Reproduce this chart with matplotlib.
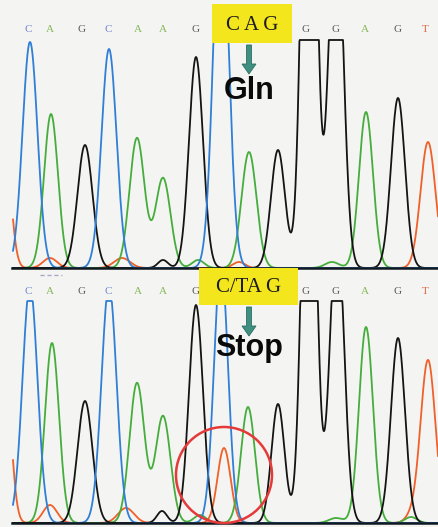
import numpy as np
import matplotlib.pyplot as plt
from matplotlib.patches import Rectangle, Circle

# peak lists per dye channel: (position, top y in px, width)
# upper trace (wild type)
top_C = [(30, 42, 7.5), (109, 49, 7.5), (221, -110, 7.5)]
top_A = [(51, 114, 7), (137, 138, 7.5), (163, 178, 7.5), (198, 260, 6),
         (249, 152, 7.5), (332, 262, 7), (366, 112, 7)]
top_G = [(85, 145, 7.5), (163, 260, 5), (196, 57, 7), (278, 150, 7),
         (309, -402, 6.5), (336, -114, 7), (398, 98, 7)]
top_T = [(5, 150, 6), (50, 258, 7), (122, 258, 8), (239, 262, 6), (428, 142, 7.5)]

# lower trace (heterozygous C/T)
bot_C = [(30, 285, 7.5), (109, 285, 7.5), (221, 262, 7)]
bot_A = [(52, 343, 7), (137, 383, 7.5), (163, 416, 7.5), (200, 515, 6),
         (248, 407, 7), (336, 518, 7), (366, 327, 7), (411, 517, 6)]
bot_G = [(85, 401, 7.5), (162, 511, 5), (196, 305, 7), (278, 404, 6.5),
         (309, -27, 6.5), (337, 223, 7), (398, 338, 7)]
bot_T = [(5, 370, 6), (50, 505, 7), (126, 508, 8), (224, 448, 6.5),
         (411, 517, 6), (428, 360, 7.5)]

# base calls above each trace
calls_left = ['C', 'A', 'G', 'C', 'A', 'A', 'G']
calls_left_x = [28, 50, 82, 108, 138, 163, 195]
calls_right = ['G', 'G', 'A', 'G', 'T']
calls_right_x = [306, 336, 365, 398, 425]

codon_top = 'C A G'
codon_bot = 'C/TA G'
aa_top = 'Gln'
aa_bot = 'Stop'

dye = {'C': '#2f7fd6', 'A': '#45ad3c', 'G': '#141414', 'T': '#f0602a'}
call_col = {'C': '#6f86cf', 'A': '#86b85a', 'G': '#5a5a5a', 'T': '#e0603e'}

fig = plt.figure(figsize=(4.38, 5.27), dpi=100, facecolor='#f4f4f2')
ax = fig.add_axes([0, 0, 1, 1])
ax.set_xlim(0, 438)
ax.set_ylim(527, 0)
ax.axis('off')

x = np.linspace(13, 438, 1200)


def trace(peaks, base, clip):
    s = np.zeros_like(x)
    for p, top, w in peaks:
        s += (base - top) * np.exp(-0.5 * ((x - p) / w) ** 2)
    return base - np.minimum(s, base - clip)


panels = [
    (268, 40, {'T': top_T, 'A': top_A, 'G': top_G, 'C': top_C}, 30, (212, 4, 80, 39), codon_top, 25, 45, aa_top, 91),
    (523, 301, {'T': bot_T, 'A': bot_A, 'G': bot_G, 'C': bot_C}, 291, (199, 268, 99, 37), codon_bot, 288, 307, aa_bot, 348),
]

for base, clip, chans, ycall, box, codon, ycod, yarr, aa, yaa in panels:
    for k in ['T', 'A', 'G', 'C']:
        ax.plot(x, trace(chans[k], base, clip), color=dye[k], lw=1.3, zorder=2)
    ax.plot([12, 438], [base, base], color='#101820', lw=1.8, zorder=3)
    for b, xc in zip(calls_left + calls_right, calls_left_x + calls_right_x):
        ax.text(xc, ycall, b, color=call_col[b], fontsize=8, family='Liberation Serif',
                ha='center', va='center', zorder=4)
    bx, by, bw, bh = box
    ax.add_patch(Rectangle((bx, by), bw, bh, facecolor='#f3e61c', edgecolor='none', zorder=5))
    ax.text(bx + bw / 2, ycod, codon, fontsize=15, family='Liberation Serif', color='#1c1c1c',
            ha='center', va='center', zorder=6)
    ax.arrow(249, yarr, 0, 29, width=5, head_width=14, head_length=10, length_includes_head=True,
             facecolor='#3f9080', edgecolor='#2d6e62', lw=0.6, zorder=6)
    ax.text(249, yaa, aa, fontsize=22, fontweight='bold', family='Liberation Sans', color='#0a0a0a',
            ha='center', va='center', zorder=6)

# faint mark under the lower baseline and the highlight circle
ax.plot([40, 62], [275, 275], color='#a8a8c8', lw=1, ls=(0, (3, 2)), zorder=2)
ax.add_patch(Circle((224, 475), 48, fill=False, edgecolor='#e53a3a', lw=1.8, zorder=7))

fig.savefig('out.png', dpi=100, facecolor=fig.get_facecolor())
